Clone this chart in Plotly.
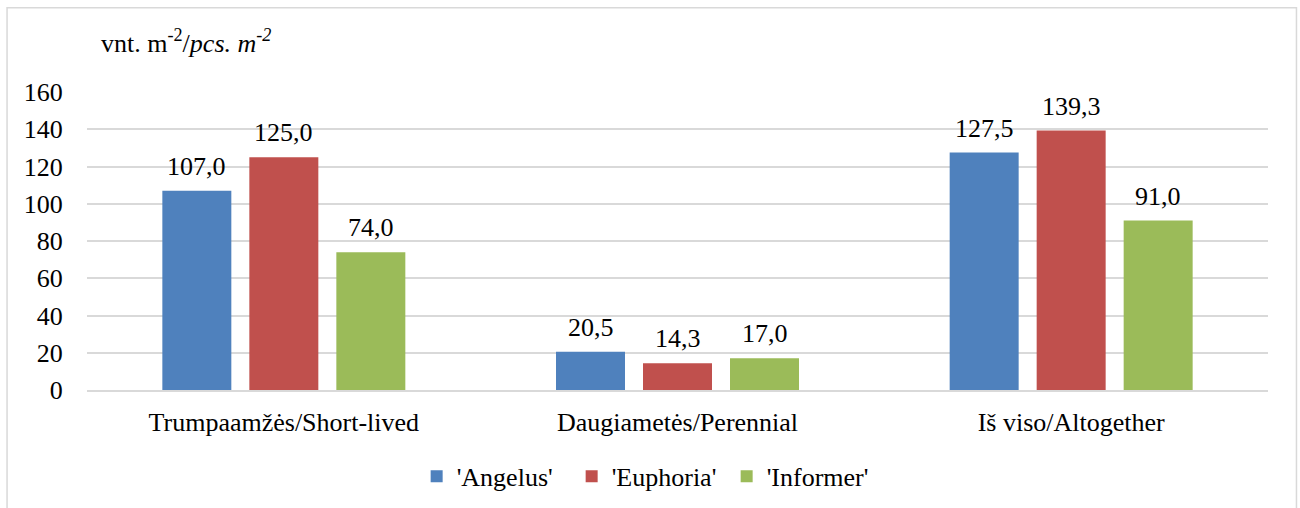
import plotly.graph_objects as go

categories = ["Trumpaamžės/Short-lived", "Daugiametės/Perennial", "Iš viso/Altogether"]
series_names = ["'Angelus'", "'Euphoria'", "'Informer'"]
angelus = [107.0, 20.5, 127.5]
euphoria = [125.0, 14.3, 139.3]
informer = [74.0, 17.0, 91.0]
series_values = [angelus, euphoria, informer]
colors = ["#4F81BD", "#C0504D", "#9BBB59"]
y_ticks = [0, 20, 40, 60, 80, 100, 120, 140, 160]

FONT = "Liberation Serif"
FS = 26
BARGAP = 0.337
BARGROUPGAP = 0.207

fig = go.Figure()
for name, vals, col in zip(series_names, series_values, colors):
    fig.add_trace(go.Bar(
        x=categories, y=vals, name=name,
        marker=dict(color=col, line=dict(width=0)),
    ))

# data labels above bars
n = len(series_values)
slot = (1 - BARGAP) / n
for j, vals in enumerate(series_values):
    for i, v in enumerate(vals):
        fig.add_annotation(
            x=i + (j - (n - 1) / 2) * slot, y=v, xref="x", yref="y",
            text=f"{v:.1f}".replace(".", ","), showarrow=False,
            yanchor="bottom", xanchor="center", yshift=8,
            font=dict(family=FONT, size=FS, color="#000000"),
        )

# unit label
fig.add_annotation(
    x=0.010, y=1.168, xref="paper", yref="paper",
    text="vnt. m<sup>-2</sup>/<i>pcs. m<sup>-2</sup></i>",
    showarrow=False, xanchor="left", yanchor="middle",
    font=dict(family=FONT, size=FS, color="#000000"),
)

# outer frame
fig.add_shape(type="rect", xref="paper", yref="paper",
              x0=-0.0677, x1=1.0241, y0=-0.45, y1=1.2827,
              line=dict(color="#D9D9D9", width=1.5), layer="below")

fig.update_layout(
    width=1300, height=508,
    margin=dict(l=87, r=32, t=92, b=117.5, autoexpand=False),
    paper_bgcolor="white", plot_bgcolor="white",
    barmode="group", bargap=BARGAP, bargroupgap=BARGROUPGAP,
    font=dict(family=FONT, size=FS, color="#000000"),
    showlegend=True,
    legend=dict(orientation="h", x=0.476, xanchor="center", y=-0.29, yanchor="middle",
                entrywidth=110, entrywidthmode="pixels",
                font=dict(family=FONT, size=FS, color="#000000"),
                bgcolor="rgba(0,0,0,0)"),
    separators=", ",
)
fig.update_yaxes(range=[0, 160], tickvals=y_ticks, ticktext=[str(t) for t in y_ticks],
                 showgrid=True, gridcolor="#D9D9D9", gridwidth=1.5,
                 zeroline=False, showline=False, automargin=False,
                 ticks="outside", ticklen=18, tickcolor="rgba(0,0,0,0)",
                 tickfont=dict(family=FONT, size=FS, color="#000000"))
fig.update_xaxes(showline=True, linecolor="#D9D9D9", linewidth=1.5,
                 showgrid=False, automargin=False,
                 ticks="outside", ticklen=8, tickcolor="rgba(0,0,0,0)",
                 tickfont=dict(family=FONT, size=FS, color="#000000"))

fig.write_html("out.html")
